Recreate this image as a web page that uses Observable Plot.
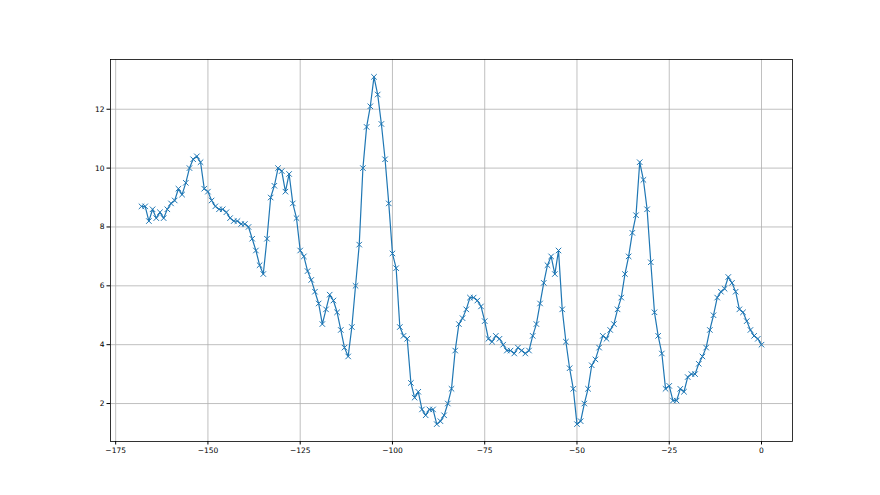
<!DOCTYPE html>
<html>
<head>
<meta charset="utf-8">
<script src="https://cdn.jsdelivr.net/npm/d3@7"></script>
<script src="https://cdn.jsdelivr.net/npm/@observablehq/plot@0.6"></script>
<style>
  html, body { margin: 0; padding: 0; background: #fff; }
  #chart { width: 880px; height: 495px; }
</style>
</head>
<body>
<div id="chart"></div>
<script>
// First x position of the series (one value per integer step up to 0)
const xStart = -168;

// Series values, from x = -168 to x = 0
const values = [
  8.7, 8.7, 8.2, 8.6, 8.3, 8.5, 8.3, 8.6, 8.8, 8.9,
  9.3, 9.1, 9.5, 10.0, 10.3, 10.4, 10.2, 9.3,
  // -150 .. -126
  9.2, 8.9, 8.7, 8.6, 8.6, 8.5, 8.3, 8.2, 8.2, 8.1,
  8.1, 8.0, 7.6, 7.2, 6.7, 6.4, 7.6, 9.0, 9.4, 10.0,
  9.9, 9.2, 9.8, 8.8, 8.3,
  // -125 .. -101
  7.2, 7.0, 6.5, 6.2, 5.8, 5.4, 4.7, 5.2, 5.7, 5.5,
  5.1, 4.5, 3.9, 3.6, 4.6, 6.0, 7.4, 10.0, 11.4, 12.1,
  13.1, 12.5, 11.5, 10.3, 8.8,
  // -100 .. -76
  7.1, 6.6, 4.6, 4.3, 4.2, 2.7, 2.2, 2.4, 1.8, 1.6,
  1.8, 1.8, 1.3, 1.4, 1.6, 2.0, 2.5, 3.8, 4.7, 4.9,
  5.2, 5.6, 5.6, 5.5, 5.3,
  // -75 .. -51
  4.8, 4.2, 4.1, 4.3, 4.2, 4.0, 3.8, 3.8, 3.7, 3.9,
  3.8, 3.7, 3.8, 4.3, 4.7, 5.4, 6.1, 6.7, 7.0, 6.4,
  7.2, 5.2, 4.1, 3.2, 2.5,
  // -50 .. -26
  1.3, 1.4, 2.0, 2.5, 3.3, 3.5, 3.9, 4.3, 4.2, 4.5,
  4.7, 5.2, 5.6, 6.4, 7.0, 7.8, 8.4, 10.2, 9.6, 8.6,
  6.8, 5.1, 4.3, 3.7, 2.5,
  // -25 .. 0
  2.6, 2.1, 2.1, 2.5, 2.4, 2.9, 3.0, 3.0, 3.35, 3.6,
  3.9, 4.5, 5.0, 5.6, 5.8, 5.9, 6.3, 6.1, 5.8, 5.2,
  5.1, 4.8, 4.5, 4.3, 4.2, 4.0
];

// Tick labels
const xTicks = [-175, -150, -125, -100, -75, -50, -25, 0];
const yTicks = [2, 4, 6, 8, 10, 12];

const data = values.map((v, i) => ({x: xStart + i, y: v}));

const fmt = d3.format("d");

const chart = Plot.plot({
  width: 880,
  height: 495,
  marginLeft: 110,
  marginRight: 88,
  marginTop: 59,
  marginBottom: 54,
  style: {
    fontFamily: "'DejaVu Sans', sans-serif",
    fontSize: "7.5px",
    color: "#000",
    background: "#fff",
    overflow: "visible"
  },
  x: {domain: [-176.4, 8.4]},
  y: {domain: [0.71, 13.69]},
  marks: [
    Plot.gridX(xTicks, {stroke: "#b0b0b0", strokeOpacity: 1, strokeWidth: 0.8}),
    Plot.gridY(yTicks, {stroke: "#b0b0b0", strokeOpacity: 1, strokeWidth: 0.8}),
    Plot.line(data, {x: "x", y: "y", stroke: "#1f77b4", strokeWidth: 1.2}),
    Plot.dot(data, {x: "x", y: "y", symbol: "times", r: 2.6, stroke: "#1f77b4", strokeWidth: 1}),
    Plot.frame({stroke: "#000", strokeWidth: 0.8}),
    Plot.axisX(xTicks, {tickSize: 3.5, tickPadding: 2.5, tickFormat: fmt, label: null, stroke: "#000"}),
    Plot.axisY(yTicks, {tickSize: 3.5, tickPadding: 2.5, tickFormat: fmt, label: null, stroke: "#000"})
  ]
});

document.getElementById("chart").appendChild(chart);
</script>
</body>
</html>
